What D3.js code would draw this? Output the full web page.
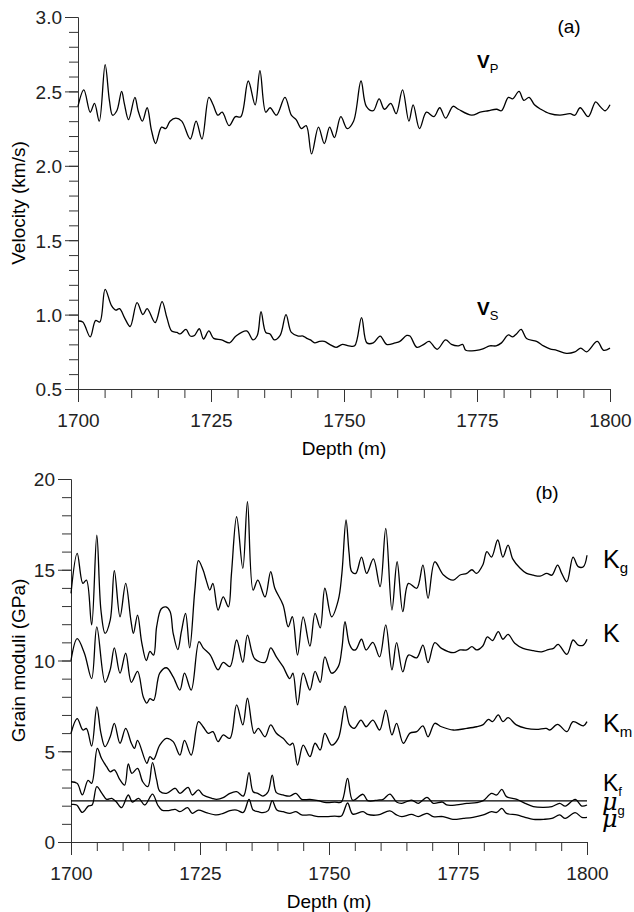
<!DOCTYPE html>
<html>
<head>
<meta charset="utf-8">
<script src="https://cdn.jsdelivr.net/npm/d3@7"></script>
<style>
  body { margin: 0; background: #fff; }
  svg { display: block; font-family: "Liberation Sans", Arial, sans-serif; }
  .axis path, .axis line { stroke: #333; stroke-width: 1; }
  .axis text { font-size: 19px; fill: #222; }
  .curve { fill: none; stroke: #000; stroke-width: 1.3; }
</style>
</head>
<body>
<svg id="chart" width="634" height="912"></svg>
<script>
'use strict';

// depth ticks
var depthMajor = [1700, 1725, 1750, 1775, 1800];
var velTicks = [0.5, 1.0, 1.5, 2.0, 2.5, 3.0];
var modTicks = [0, 5, 10, 15, 20];

// panel (a): velocities, [depth, km/s]
var vp = [[1700,2.40],[1701.1,2.51],[1702.3,2.36],[1703.1,2.42],[1704.0,2.30],[1705.1,2.68],[1705.9,2.44],[1706.5,2.34],[1707.3,2.37],[1708.2,2.50],[1708.7,2.42],[1709.5,2.31],[1710.7,2.46],[1711.3,2.37],[1712.1,2.30],[1713.0,2.39],[1713.8,2.24],[1714.6,2.15],[1715.7,2.26],[1716.5,2.25],[1717.3,2.30],[1718.4,2.32],[1719.5,2.30],[1721.1,2.18],[1722.2,2.30],[1723.3,2.18],[1724.6,2.46],[1725.4,2.41],[1726.3,2.34],[1727.1,2.36],[1728.4,2.27],[1729.6,2.33],[1730.6,2.33],[1732.0,2.57],[1733.3,2.41],[1734.2,2.64],[1735.3,2.36],[1736.1,2.39],[1737.3,2.34],[1738.9,2.46],[1740.1,2.34],[1741.0,2.31],[1742.0,2.25],[1742.9,2.27],[1743.9,2.08],[1745.2,2.26],[1746.3,2.15],[1747.3,2.26],[1748.2,2.19],[1749.4,2.33],[1750.6,2.25],[1751.8,2.30],[1753.2,2.57],[1754.2,2.40],[1755.5,2.37],[1756.6,2.45],[1757.6,2.38],[1758.8,2.42],[1759.8,2.35],[1761.0,2.51],[1762.2,2.30],[1763.0,2.41],[1764.2,2.25],[1765.5,2.36],[1766.9,2.33],[1768.0,2.39],[1769.1,2.32],[1770.5,2.40],[1771.5,2.38],[1774.0,2.34],[1775.6,2.36],[1777.1,2.37],[1778.7,2.38],[1779.6,2.37],[1780.9,2.46],[1781.7,2.45],[1782.9,2.50],[1783.8,2.44],[1784.8,2.46],[1785.8,2.41],[1787.0,2.38],[1788.7,2.35],[1790.6,2.34],[1792.5,2.35],[1793.4,2.34],[1794.4,2.39],[1795.9,2.33],[1797.3,2.43],[1798.1,2.40],[1799.1,2.37],[1800,2.41]];

var vs = [[1700,0.957],[1700.9,0.95],[1702.3,0.85],[1703.3,0.96],[1704.1,0.95],[1705.1,1.17],[1706.3,1.06],[1707.1,1.03],[1707.8,1.04],[1708.8,0.975],[1709.8,0.92],[1711.1,1.08],[1712.2,1.00],[1713.0,1.04],[1714.5,0.946],[1715.8,1.087],[1716.7,0.98],[1717.6,0.89],[1718.6,0.88],[1719.2,0.87],[1720.3,0.90],[1721.1,0.856],[1721.9,0.86],[1722.8,0.905],[1723.6,0.836],[1724.6,0.89],[1725.5,0.84],[1727.0,0.83],[1728.5,0.81],[1729.7,0.856],[1731.7,0.89],[1732.9,0.83],[1733.7,0.86],[1734.4,1.02],[1735.3,0.88],[1736.1,0.87],[1736.9,0.83],[1738.0,0.86],[1739.1,1.00],[1740.1,0.88],[1741.4,0.856],[1742.3,0.856],[1743.0,0.84],[1743.7,0.83],[1744.5,0.81],[1745.4,0.82],[1746.3,0.82],[1747.3,0.80],[1748.5,0.78],[1749.7,0.80],[1750.9,0.79],[1752.0,0.79],[1753.3,0.98],[1754.3,0.81],[1755.5,0.81],[1756.8,0.856],[1758.0,0.80],[1759.6,0.81],[1760.5,0.82],[1761.8,0.86],[1762.4,0.856],[1763.7,0.78],[1765.0,0.80],[1766.0,0.82],[1767.5,0.767],[1769.1,0.83],[1770.2,0.80],[1771.5,0.79],[1772.3,0.80],[1772.9,0.76],[1774.9,0.76],[1776.1,0.77],[1777.4,0.79],[1778.6,0.79],[1779.6,0.81],[1780.9,0.863],[1781.7,0.85],[1782.4,0.87],[1783.3,0.90],[1784.3,0.84],[1786.2,0.82],[1787.5,0.79],[1788.7,0.77],[1790.0,0.76],[1791.8,0.74],[1793.4,0.75],[1794.5,0.775],[1795.6,0.75],[1797.6,0.82],[1798.8,0.76],[1800,0.775]];

// panel (b): moduli, [depth, GPa]
var kg = [[1700,13.7],[1701.2,15.9],[1702.3,14.25],[1703.0,14.43],[1704.0,11.96],[1705.0,16.9],[1705.8,12.78],[1706.6,11.5],[1707.6,12.23],[1708.4,14.95],[1709.5,12.41],[1710.6,14.25],[1711.6,12.23],[1712.1,11.5],[1712.9,12.5],[1713.7,11.0],[1714.6,10.0],[1715.3,10.5],[1716.0,10.3],[1716.6,11.86],[1717.5,12.85],[1718.4,12.95],[1719.2,12.7],[1719.8,11.5],[1720.7,10.6],[1721.4,11.6],[1722.2,12.6],[1723.0,10.7],[1724.0,13.88],[1724.7,15.5],[1725.6,14.98],[1726.2,14.43],[1726.9,13.88],[1727.5,14.25],[1728.5,12.78],[1729.5,13.5],[1730.5,12.96],[1731.1,14.8],[1732.1,17.92],[1733.3,15.08],[1734.2,18.75],[1735.3,13.88],[1736.2,14.43],[1737.6,13.5],[1738.7,14.9],[1739.5,13.98],[1741.1,13.06],[1742.1,11.86],[1742.9,12.41],[1743.9,10.3],[1745.0,12.4],[1746.3,10.8],[1747.3,12.6],[1748.3,11.8],[1749.2,13.98],[1750.5,12.41],[1751.8,13.33],[1752.5,14.8],[1753.3,17.74],[1753.9,15.9],[1754.4,14.9],[1755.2,14.8],[1756.3,15.7],[1757.3,14.8],[1758.6,15.6],[1759.9,14.07],[1761.0,17.28],[1762.2,12.78],[1763.2,15.44],[1764.3,12.69],[1765.4,14.25],[1767.0,13.98],[1768.2,15.26],[1769.2,13.43],[1770.5,15.44],[1772.2,14.71],[1774.1,14.43],[1775.4,14.71],[1776.7,14.8],[1777.7,15.0],[1778.6,14.8],[1779.8,15.26],[1780.6,16.0],[1781.5,15.7],[1782.7,16.64],[1783.7,15.7],[1784.7,16.36],[1785.6,15.6],[1787.0,15.1],[1788.3,14.8],[1789.6,14.7],[1790.9,14.65],[1792.2,14.8],[1793.2,14.7],[1794.3,15.26],[1795.1,14.8],[1796.1,14.34],[1797.3,15.7],[1798.3,15.17],[1799.3,15.17],[1800,15.8]];

var k = [[1700,10.0],[1701.2,11.2],[1702.6,10.4],[1704.0,9.0],[1705.0,11.85],[1706.6,8.8],[1707.6,9.5],[1708.4,10.7],[1709.5,9.3],[1710.6,10.4],[1711.7,8.8],[1712.9,9.4],[1714.0,8.0],[1714.7,7.65],[1715.3,7.9],[1716.0,7.8],[1717.2,9.3],[1718.5,9.6],[1719.8,9.1],[1721.1,8.37],[1722.0,9.3],[1723.3,8.37],[1724.8,11.04],[1725.6,10.7],[1727.0,10.3],[1728.5,9.48],[1729.5,9.9],[1730.8,9.66],[1732.1,11.13],[1733.3,9.9],[1734.2,11.4],[1735.6,10.1],[1737.6,9.9],[1738.7,10.7],[1739.8,10.2],[1741.1,9.66],[1742.4,9.0],[1743.0,9.3],[1743.9,7.55],[1745.0,9.3],[1746.3,8.37],[1747.3,9.4],[1748.3,8.8],[1749.2,10.2],[1750.5,9.3],[1751.8,9.66],[1752.5,10.67],[1753.1,12.14],[1753.9,10.95],[1754.6,10.6],[1755.2,10.6],[1756.3,11.17],[1757.2,10.58],[1758.5,11.0],[1759.8,10.2],[1761.0,11.96],[1762.2,9.48],[1763.1,10.98],[1764.3,9.38],[1765.4,10.3],[1767.0,10.15],[1768.2,10.85],[1769.2,9.88],[1770.5,10.98],[1771.8,10.67],[1774.1,10.43],[1775.4,10.58],[1776.7,10.58],[1777.7,10.76],[1778.6,10.58],[1779.8,10.8],[1780.7,11.3],[1781.7,11.1],[1782.8,11.59],[1783.7,11.17],[1784.7,11.44],[1786.0,10.95],[1787.6,10.67],[1789.6,10.54],[1791.2,10.48],[1792.5,10.6],[1793.5,10.67],[1794.4,10.89],[1796.1,10.34],[1797.3,11.13],[1798.3,10.85],[1799.3,10.85],[1800,11.17]];

var km = [[1700,5.99],[1701.2,6.8],[1702.3,6.17],[1703.0,6.25],[1704.0,5.29],[1705.0,7.45],[1705.8,6.0],[1706.6,5.25],[1707.6,5.8],[1708.4,6.54],[1709.5,5.44],[1710.6,6.26],[1711.7,5.44],[1712.3,5.16],[1712.9,5.6],[1714.7,4.34],[1715.3,4.7],[1716.0,4.55],[1717.2,5.34],[1718.5,5.71],[1719.8,5.53],[1721.1,4.79],[1722.0,5.6],[1723.3,4.79],[1724.7,6.63],[1725.6,6.35],[1726.6,5.99],[1727.5,6.08],[1728.5,5.53],[1729.5,5.9],[1730.8,5.71],[1732.1,7.55],[1733.3,6.45],[1734.2,7.92],[1735.5,5.99],[1736.3,6.26],[1737.6,5.8],[1738.7,6.45],[1739.8,5.99],[1741.1,5.71],[1742.4,5.34],[1743.0,5.44],[1743.9,4.24],[1745.0,5.34],[1746.3,4.7],[1747.3,5.44],[1748.3,5.07],[1749.2,5.99],[1750.5,5.34],[1751.8,5.71],[1753.1,7.49],[1754.0,6.45],[1754.9,6.26],[1756.2,6.72],[1757.2,6.35],[1758.5,6.72],[1759.8,6.17],[1761.0,7.27],[1762.2,5.9],[1763.1,6.54],[1764.4,5.44],[1765.7,6.0],[1767.0,6.08],[1768.2,6.4],[1769.2,5.8],[1770.5,6.54],[1771.8,6.35],[1774.1,6.17],[1776.7,6.26],[1778.6,6.35],[1779.8,6.45],[1780.9,6.76],[1781.7,6.63],[1782.8,7.0],[1783.7,6.63],[1784.7,6.85],[1786.3,6.45],[1788.2,6.26],[1790.2,6.2],[1792.1,6.26],[1792.8,6.17],[1794.3,6.48],[1796.1,6.08],[1797.3,6.63],[1799.3,6.4],[1800,6.63]];

var kf = [[1700,2.27],[1800,2.27]];

var muG = [[1700,3.32],[1701.2,3.23],[1702.2,2.6],[1703.3,3.4],[1704.0,3.23],[1705.1,5.16],[1705.9,4.61],[1706.9,4.15],[1707.6,3.87],[1708.4,3.97],[1709.5,3.42],[1710.4,3.14],[1711.1,4.3],[1711.8,3.78],[1712.9,4.06],[1713.9,3.32],[1714.9,3.05],[1715.8,4.37],[1716.6,3.42],[1717.2,2.8],[1718.5,2.68],[1720.2,2.96],[1721.1,2.68],[1722.7,3.01],[1723.5,2.59],[1724.7,2.87],[1725.6,2.59],[1727.3,2.41],[1728.2,2.35],[1729.5,2.44],[1730.8,2.68],[1732.1,2.77],[1733.4,2.53],[1734.5,3.82],[1735.3,2.77],[1736.2,2.68],[1737.2,2.53],[1738.2,2.77],[1739.0,3.69],[1739.8,2.72],[1741.1,2.59],[1742.4,2.53],[1743.6,2.68],[1744.7,2.35],[1746.3,2.35],[1747.9,2.28],[1749.5,2.17],[1751.1,2.2],[1752.4,2.2],[1753.6,3.51],[1754.6,2.3],[1756.6,2.63],[1757.5,2.28],[1759.5,2.31],[1760.5,2.35],[1761.8,2.64],[1763.1,2.2],[1764.1,2.13],[1766.0,2.31],[1767.3,2.13],[1769.0,2.46],[1770.2,2.13],[1772.0,2.2],[1772.8,2.04],[1774.7,2.04],[1776.7,2.13],[1778.6,2.17],[1779.9,2.28],[1781.5,2.68],[1782.5,2.59],[1783.5,2.9],[1784.4,2.5],[1786.4,2.35],[1788.0,2.13],[1789.6,1.95],[1791.6,1.91],[1793.2,1.95],[1794.7,2.13],[1795.8,1.98],[1797.7,2.35],[1799.0,1.98],[1800,2.04]];

var mu = [[1700,2.07],[1701.1,2.04],[1702.2,1.63],[1703.4,1.99],[1704.1,2.04],[1705.0,3.05],[1706.0,2.68],[1706.9,2.35],[1707.9,2.4],[1708.8,2.2],[1709.8,1.89],[1711.1,2.59],[1711.9,2.2],[1713.1,2.4],[1714.3,2.04],[1715.8,2.64],[1716.8,2.04],[1717.6,1.76],[1718.9,1.73],[1720.2,1.8],[1721.1,1.67],[1722.6,1.89],[1723.5,1.58],[1724.7,1.76],[1726.2,1.62],[1728.2,1.49],[1729.5,1.58],[1730.8,1.73],[1732.1,1.76],[1733.4,1.63],[1734.5,2.35],[1735.3,1.76],[1736.3,1.67],[1737.2,1.62],[1738.2,1.73],[1739.0,2.28],[1739.9,1.76],[1741.1,1.67],[1742.4,1.58],[1743.6,1.67],[1744.7,1.49],[1746.3,1.49],[1747.9,1.4],[1749.5,1.4],[1751.1,1.43],[1752.4,1.43],[1753.6,2.15],[1754.6,1.54],[1756.6,1.67],[1757.5,1.52],[1759.5,1.49],[1761.8,1.71],[1763.1,1.49],[1764.1,1.4],[1766.0,1.52],[1767.3,1.4],[1769.0,1.58],[1770.2,1.4],[1772.1,1.4],[1774.0,1.25],[1776.0,1.3],[1777.9,1.36],[1779.9,1.49],[1781.5,1.67],[1782.5,1.63],[1783.5,1.85],[1784.4,1.58],[1786.4,1.49],[1788.0,1.36],[1789.6,1.25],[1791.6,1.25],[1793.2,1.3],[1794.7,1.49],[1795.8,1.3],[1797.7,1.62],[1799.0,1.36],[1800,1.36]];

var svg = d3.select('#chart');

function minorTicks(lo, hi, step) {
  var out = [];
  for (var v = lo; v <= hi + 1e-9; v += step) out.push(+v.toFixed(3));
  return out;
}

function drawPanel(opt) {
  var x = d3.scaleLinear().domain([1700, 1800]).range(opt.xRange);
  var y = d3.scaleLinear().domain(opt.yDomain).range(opt.yRange);
  var g = svg.append('g');
  var bottom = opt.yRange[0];
  var left = opt.xRange[0];

  // minor ticks first, then labelled ones
  g.append('g').attr('class', 'axis').attr('transform', 'translate(0,' + bottom + ')')
    .call(d3.axisBottom(x).tickValues(minorTicks(1700, 1800, 5)).tickSize(9).tickSizeOuter(0).tickFormat(''));
  var xa = g.append('g').attr('class', 'axis').attr('transform', 'translate(0,' + bottom + ')')
    .call(d3.axisBottom(x).tickValues(depthMajor).tickSize(13).tickSizeOuter(0).tickFormat(d3.format('d')));
  xa.selectAll('text').attr('y', 38).attr('dy', 0);

  g.append('g').attr('class', 'axis').attr('transform', 'translate(' + left + ',0)')
    .call(d3.axisLeft(y).tickValues(minorTicks(opt.yDomain[0], opt.yDomain[1], opt.yMinor)).tickSize(9).tickSizeOuter(0).tickFormat(''));
  var ya = g.append('g').attr('class', 'axis').attr('transform', 'translate(' + left + ',0)')
    .call(d3.axisLeft(y).tickValues(opt.yTicks).tickSize(13).tickSizeOuter(0).tickFormat(opt.fmt));
  ya.selectAll('text').attr('x', -16).attr('dy', '0.36em');

  g.append('text')
    .attr('x', (opt.xRange[0] + opt.xRange[1]) / 2)
    .attr('y', bottom + 66)
    .attr('text-anchor', 'middle')
    .style('font-size', '19px')
    .text('Depth (m)');

  g.append('text')
    .attr('transform', 'translate(25,' + (opt.yRange[0] + opt.yRange[1]) / 2 + ') rotate(-90)')
    .attr('text-anchor', 'middle')
    .style('font-size', '19px')
    .text(opt.yLabel);

  var line = d3.line()
    .x(function(d) { return x(d[0]); })
    .y(function(d) { return y(d[1]); })
    .curve(d3.curveCatmullRom.alpha(0.5));

  g.selectAll('path.curve')
    .data(opt.series)
    .enter()
    .append('path')
    .attr('class', 'curve')
    .attr('d', line);

  return { x: x, y: y, g: g };
}

var panelA = drawPanel({
  xRange: [78, 610], yDomain: [0.5, 3.0], yRange: [389, 17],
  yTicks: velTicks, yMinor: 0.1, fmt: d3.format('.1f'),
  yLabel: 'Velocity (km/s)', series: [vp, vs]
});

var panelB = drawPanel({
  xRange: [71, 587], yDomain: [0, 20], yRange: [842, 479],
  yTicks: modTicks, yMinor: 1, fmt: d3.format('d'),
  yLabel: 'Grain moduli (GPa)', series: [kg, k, km, kf, muG, mu]
});

// panel tags
panelA.g.append('text').attr('x', 569).attr('y', 33).attr('text-anchor', 'middle')
  .style('font-size', '19px').text('(a)');
panelB.g.append('text').attr('x', 547).attr('y', 499).attr('text-anchor', 'middle')
  .style('font-size', '19px').text('(b)');

// curve names
function label(g, xPos, yPos, main, sub, size, subSize, style) {
  var t = g.append('text').attr('x', xPos).attr('y', yPos)
    .style('font-size', size + 'px');
  var m = t.append('tspan').text(main);
  if (style) m.style('font-style', style.fontStyle).style('font-weight', style.fontWeight)
    .style('font-family', style.fontFamily);
  if (sub) t.append('tspan').attr('dy', subSize * 0.35).style('font-size', subSize + 'px').text(sub);
}

var bold = { fontWeight: 'bold' };
label(panelA.g, 477, 68, 'V', 'P', 19, 13, bold);
label(panelA.g, 477, 315, 'V', 'S', 19, 13, bold);

label(panelB.g, 603, 568, 'K', 'g', 25, 15);
label(panelB.g, 603, 642, 'K', '', 25, 15);
label(panelB.g, 603, 732, 'K', 'm', 25, 15);
label(panelB.g, 603, 791, 'K', 'f', 23, 13);
var muStyle = { fontStyle: 'italic', fontFamily: '"DejaVu Serif", serif' };
label(panelB.g, 602, 810, 'μ', 'g', 24, 13, muStyle);
label(panelB.g, 602, 827, 'μ', '', 24, 13, muStyle);
</script>
</body>
</html>
